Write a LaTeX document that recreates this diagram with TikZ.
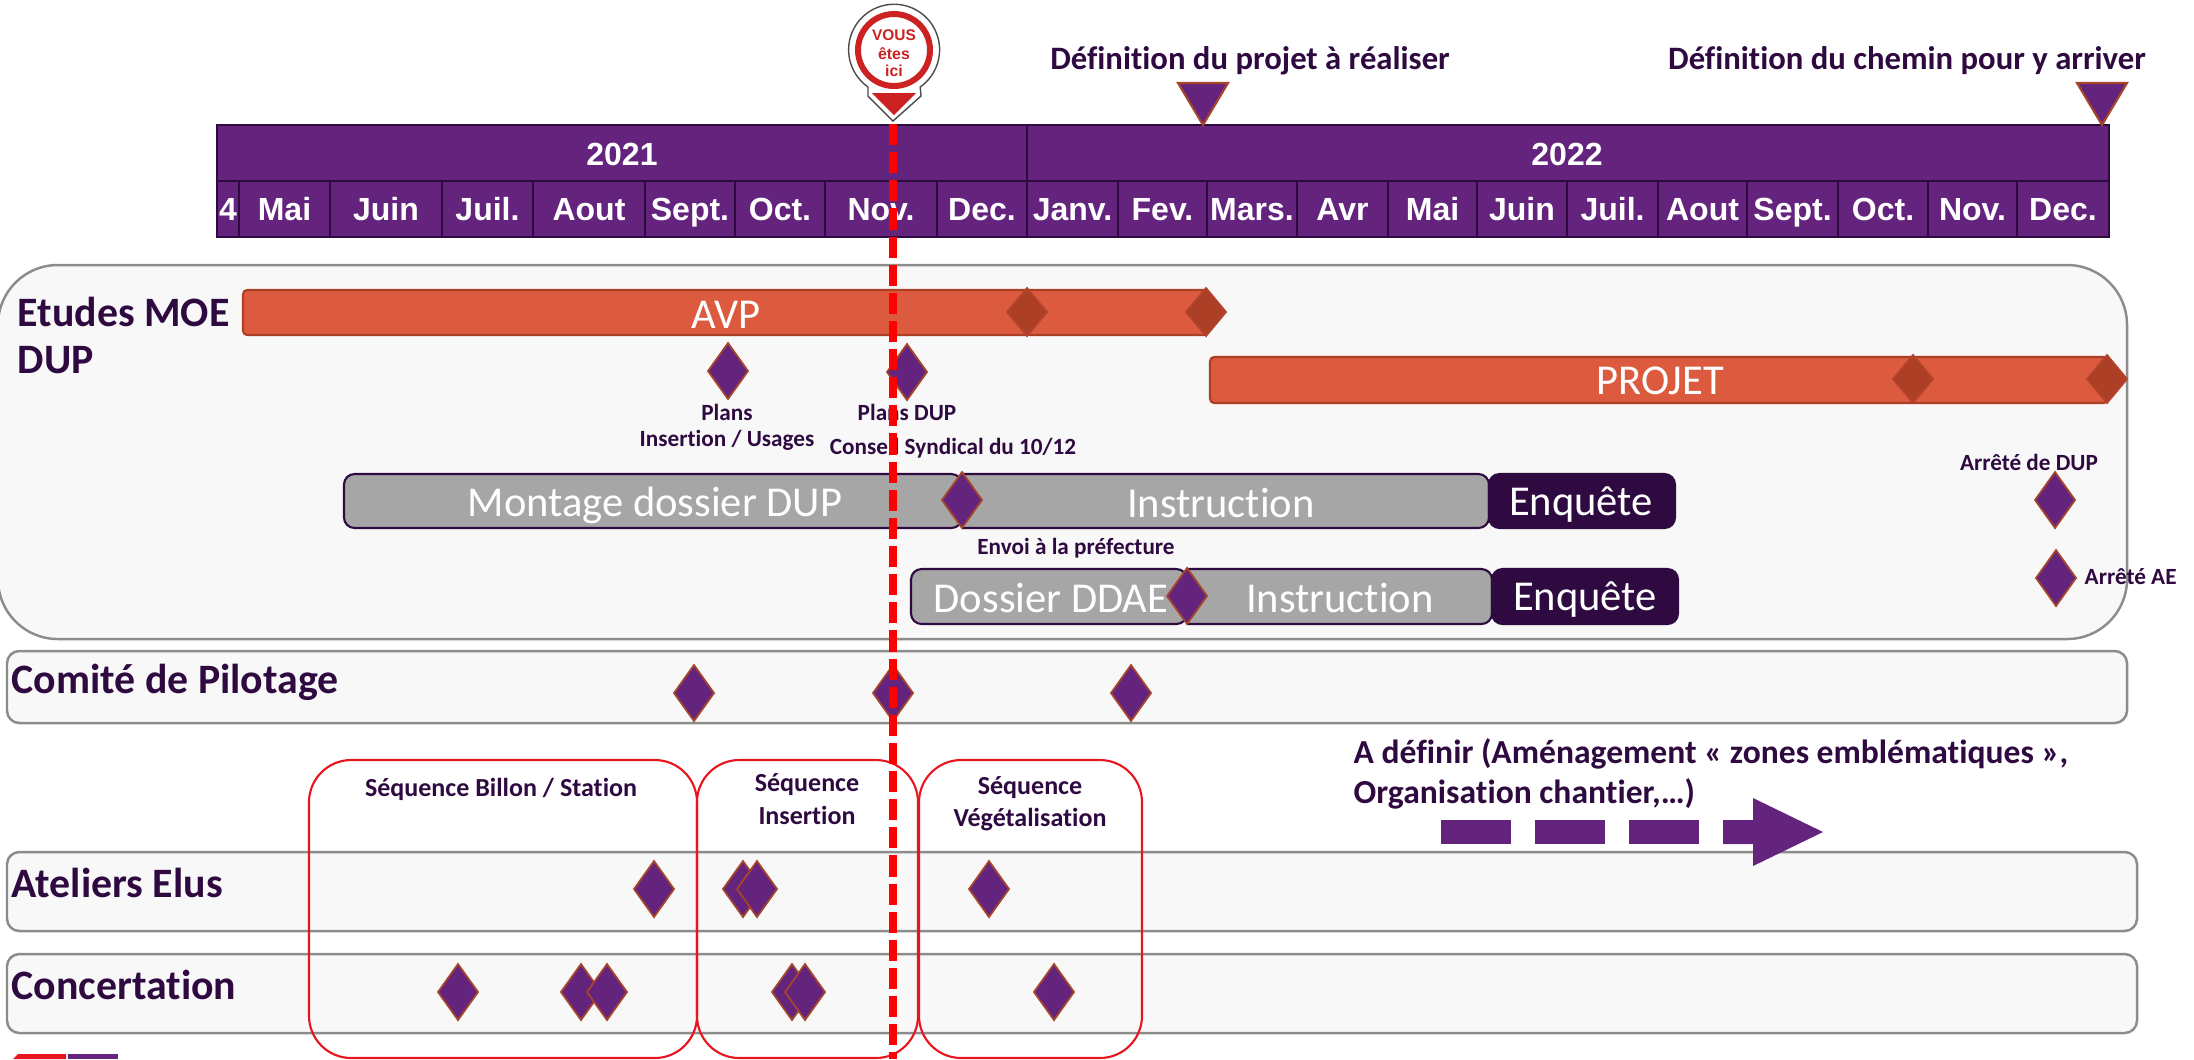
\documentclass[tikz,border=0pt]{standalone}
\usepackage{fontspec}
\setmainfont{Carlito}[Ligatures=NoCommon]
\newfontfamily\arialf{Liberation Sans}
\definecolor{pur}{HTML}{64247E}
\definecolor{dk}{HTML}{2E0A40}
\definecolor{org}{HTML}{DC5B3F}
\definecolor{orgd}{HTML}{AD3F27}
\definecolor{brn}{HTML}{A5462B}
\definecolor{gry}{HTML}{A6A6A6}
\definecolor{pan}{HTML}{F8F8F8}
\definecolor{panb}{HTML}{8C8C8C}
\definecolor{pinred}{HTML}{CC2222}
\definecolor{seq}{HTML}{E8141E}
\newcommand{\fs}[1]{\fontsize{#1}{#1}\selectfont}
\tikzset{
  x=0.01cm,y=-0.01cm,
  panel/.style={draw=panb,fill=pan,line width=0.7pt},
  tl/.style={draw=dk,fill=pur,line width=0.7pt},
  mon/.style={font=\arialf\bfseries\fs{9.1},text=white,inner sep=0,anchor=base},
  bar/.style={draw=orgd,fill=org,line width=0.6pt,rounded corners=1.2pt},
  gbar/.style={draw=dk,fill=gry,line width=0.6pt,rounded corners=3pt},
  dbar/.style={draw=dk,fill=dk,line width=0.6pt,rounded corners=3pt},
  big/.style={font=\fs{12.1},text=white,inner sep=0},
  head/.style={font=\bfseries\fs{11.9},text=dk,inner sep=0,anchor=west,align=left},
  top/.style={font=\bfseries\fs{9.3},text=dk,inner sep=0},
  lab/.style={font=\bfseries\fs{6.6},text=dk,inner sep=0,align=center},
  seqlab/.style={font=\bfseries\fs{7.4},text=dk,inner sep=0,align=center},
  seqbox/.style={draw=seq,line width=0.6pt,rounded corners=12pt},
  dm/.pic={\draw[fill=pur,draw=brn,line width=0.5pt] (-20,0)--(0,-28)--(20,0)--(0,28)--cycle;},
  dmo/.pic={\draw[fill=orgd,draw=orgd!85!org,line width=0.5pt] (-20,0)--(0,-24)--(20,0)--(0,24)--cycle;},
  tri/.pic={\draw[fill=pur,draw=brn,line width=0.6pt] (-25,-42)--(25,-42)--(0,0)--cycle;}
}
\begin{document}
\begin{tikzpicture}
\useasboundingbox (0,0) rectangle (2194,1059);
% panels
\draw[panel,rounded corners=17pt] (-2,265) rectangle (2127,639);
\draw[panel,rounded corners=3.5pt] (7,651) rectangle (2127,723);
\draw[panel,rounded corners=3.5pt] (7,852) rectangle (2137,931);
\draw[panel,rounded corners=3.5pt] (7,954) rectangle (2137,1033);
% timeline
\draw[tl] (217,125) rectangle (1027,181);
\draw[tl] (1027,125) rectangle (2109,181);
\node[mon] (y21) at (622,165) {2021};
\node[mon] (y22) at (1567,165) {2022};
\foreach \a/\b/\t in {217/239/4,239/330/Mai,330/442/Juin,442/533/Juil.,533/645/Aout,645/735/Sept.,735/825/Oct.,825/937/Nov.,937/1027/Dec.,1027/1118/Janv.,1118/1207/Fev.,1207/1297/Mars.,1297/1388/Avr,1388/1477/Mai,1477/1567/Juin,1567/1658/Juil.,1658/1747/Aout,1747/1838/Sept.,1838/1928/Oct.,1928/2017/Nov.,2017/2109/Dec.}{
  \draw[tl] (\a,181) rectangle (\b,237);
  \node[mon] at ({(\a+\b)/2},220) {\t};
}
% triangles
\pic at (1203,125) {tri};
\pic at (2102,125) {tri};
\node[top] (t1) at (1250,61) {Définition du projet à réaliser};
\node[top] (t2) at (1907,61) {Définition du chemin pour y arriver};
% orange bars
\draw[bar] (243,290) rectangle (1208,335);
\draw[bar] (1210,357) rectangle (2108,403);
\node[big] (avp) at (726,315) {AVP};
\node[big] (projet) at (1660,381) {PROJET};
\pic at (1027,312) {dmo};
\pic at (1206,312) {dmo};
\pic at (1913,379) {dmo};
\pic at (2107,379) {dmo};
% grey bars
\draw[gbar] (962,474) -- (1489,474) -- (1489,528) -- (962,528);
\draw[gbar] (344,474) rectangle (962,528);
\draw[dbar] (1489,474) rectangle (1675,528);
\draw[gbar] (1187,569) -- (1492,569) -- (1492,624) -- (1187,624);
\draw[gbar] (911,569) rectangle (1187,624);
\draw[dbar] (1492,569) rectangle (1678,624);
\node[big] (m1) at (655,505) {Montage dossier DUP};
\node[big] (m2) at (1221,503) {Instruction};
\node[big] (m3) at (1581,505) {Enquête};
\node[big] (m4) at (1051,598) {Dossier DDAE};
\node[big] (m5) at (1340,598) {Instruction};
\node[big] (m6) at (1585,600) {Enquête};
% headings
\node[head] (h1) at (17,312) {Etudes MOE};
\node[head] (h2) at (17,360) {DUP};
\node[head] (h3) at (11,682) {Comité de Pilotage};
\node[head] (h4) at (11,883) {Ateliers Elus};
\node[head] (h5) at (11,985) {Concertation};
% labels
\node[lab] (l1) at (727,412) {Plans};
\node[lab] (l2) at (727,440) {Insertion / Usages};
\node[lab] (l3) at (907,412) {Plans DUP};
\node[lab] (l4) at (953,448) {Conseil Syndical du 10/12};
\node[lab] (l5) at (1076,548) {Envoi à la préfecture};
\node[lab] (l6) at (2029,462) {Arrêté de DUP};
\node[lab,anchor=west] (l7) at (2084,577) {Arrêté AE};
% sequence boxes
\draw[seqbox] (309,760) rectangle (697,1058);
\draw[seqbox] (697,760) rectangle (918,1058);
\draw[seqbox] (919,760) rectangle (1142,1058);
\node[seqlab] (s1) at (501,789) {Séquence Billon / Station};
\node[seqlab] (s2) at (807,785) {Séquence};
\node[seqlab] (s3) at (807,815) {Insertion};
\node[seqlab] (s4) at (1030,788) {Séquence};
\node[seqlab] (s5) at (1030,820) {Végétalisation};
% purple diamonds
\foreach \p in {(728,371),(907,372),(962,500),(1187,596),(2055,500),(2056,578),
  (694,693),(893,693),(1131,693),
  (654,889),(743,889),(757,889),(989,889),
  (458,992),(581,992),(607,992),(792,992),(805,992),(1054,992)}{
  \pic at \p {dm};
}
% A definir
\node[head,font=\bfseries\fs{9.55}] (a1) at (1353,754) {A définir (Aménagement « zones emblématiques »,};
\node[head,font=\bfseries\fs{9.55}] (a2) at (1353,794) {Organisation chantier,…)};
\fill[pur] (1441,820) rectangle (1511,844);
\fill[pur] (1535,820) rectangle (1605,844);
\fill[pur] (1629,820) rectangle (1699,844);
\fill[pur] (1723,820) -- (1753,820) -- (1753,798) -- (1823,832) -- (1753,866) -- (1753,844) -- (1723,844) -- cycle;
% logo
\fill[seq] (13,1059) -- (18,1054) -- (66,1054) -- (66,1059) -- cycle;
\fill[pur] (68,1054) rectangle (118,1059);
% red dashed line
\draw[red,line width=2pt,dash pattern=on 6pt off 2pt] (893,124) -- (893,1059);
% pin
\draw[fill=white,draw=black!70,line width=0.4pt] (868,87) arc[start angle=125,end angle=415,radius=45.5] -- (921,96) -- (893,121) -- (868,96) -- cycle;
\draw[pinred,line width=1.7pt] (894,50) circle[radius=36];
\fill[pinred] (872,93) -- (916,93) -- (894,115) -- cycle;
\node[font=\arialf\bfseries\fs{4.4},text=pinred,inner sep=0] (v1) at (894,35) {VOUS};
\node[font=\arialf\bfseries\fs{4.5},text=pinred,inner sep=0] (v2) at (894,54) {êtes};
\node[font=\arialf\bfseries\fs{4.5},text=pinred,inner sep=0] (v3) at (894,71) {ici};
\end{tikzpicture}
\end{document}
